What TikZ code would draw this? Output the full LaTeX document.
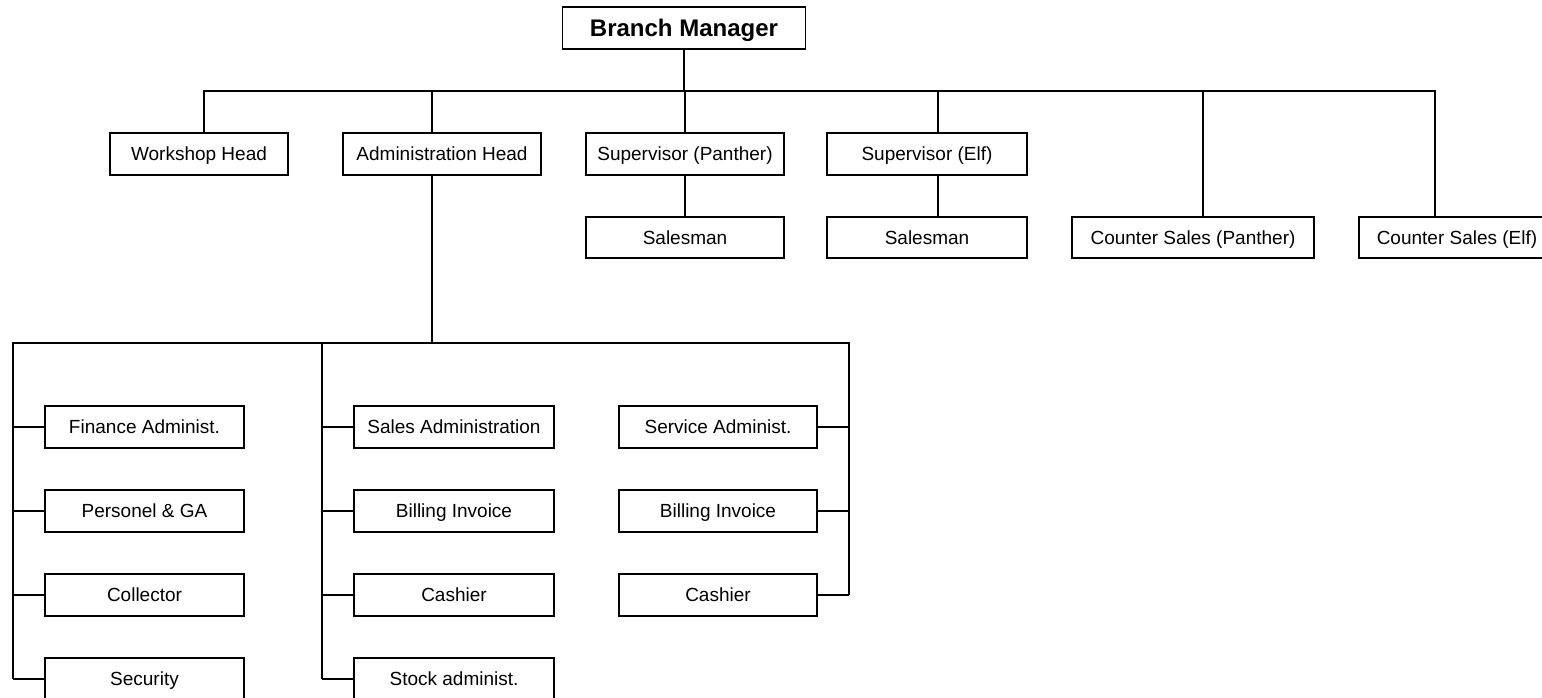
\documentclass[tikz,border=0pt]{standalone}
\usepackage{fontspec}
\setmainfont{Liberation Sans}
\begin{document}
\begin{tikzpicture}[x=1pt,y=-1pt,
  unit/.style={draw, line width=1.4pt, inner sep=0pt, align=center,
    minimum height=42pt, text height=13.6pt, text depth=0pt,
    font=\fontsize{19}{22}\selectfont},
  boss/.style={unit, text height=17.2pt, font=\fontsize{24}{28}\selectfont\bfseries},
  link/.style={line width=1.3pt}]
\useasboundingbox (0,0) rectangle (1542,698);
\fill[white] (0,0) rectangle (1542,698);

% top levels
\node[boss, minimum width=243pt] (bm) at (684,28) {Branch Manager};
\node[unit, minimum width=178pt] (wh) at (199,154) {Workshop Head};
\node[unit, minimum width=198pt] (ah) at (442,154) {Administration Head};
\node[unit, minimum width=198pt] (sp) at (685,154) {Supervisor (Panther)};
\node[unit, minimum width=200pt] (se) at (927,154) {Supervisor (Elf)};
\node[unit, minimum width=198pt, minimum height=41pt] (s1) at (685,237.5) {Salesman};
\node[unit, minimum width=200pt, minimum height=41pt] (s2) at (927,237.5) {Salesman};
\node[unit, minimum width=242pt, minimum height=41pt] (cp) at (1193,237.5) {Counter Sales (Panther)};
\node[unit, minimum width=196pt, minimum height=41pt] (ce) at (1457,237.5) {Counter Sales (Elf)};

% administration: left column
\node[unit, minimum width=199pt] (fa) at (144.5,427) {Finance Administ.};
\node[unit, minimum width=199pt] (pg) at (144.5,511) {Personel \& GA};
\node[unit, minimum width=199pt] (co) at (144.5,595) {Collector};
\node[unit, minimum width=199pt] (sc) at (144.5,679) {Security};
% administration: middle column
\node[unit, minimum width=200pt] (sa) at (454,427) {Sales Administration};
\node[unit, minimum width=200pt] (bi1) at (454,511) {Billing Invoice};
\node[unit, minimum width=200pt] (ca1) at (454,595) {Cashier};
\node[unit, minimum width=200pt] (st) at (454,679) {Stock administ.};
% administration: right column
\node[unit, minimum width=198pt] (sv) at (718,427) {Service Administ.};
\node[unit, minimum width=198pt] (bi2) at (718,511) {Billing Invoice};
\node[unit, minimum width=198pt] (ca2) at (718,595) {Cashier};

% bus points
\coordinate (tl) at (204,91);
\coordinate (tr) at (1435,91);
\coordinate (adx) at (432,91);
\coordinate (sex) at (938,91);
\coordinate (cpx) at (1203,91);
\coordinate (bl) at (13,343);
\coordinate (bm2) at (322,343);
\coordinate (br) at (849,343);

% branch manager to heads
\draw[link] (bm.south) -- (bm.south |- tl);
\draw[link] (tl |- wh.north) -- (tl) -- (tr) -- (tr |- ce.north);
\draw[link] (adx) -- (adx |- ah.north);
\draw[link] (sp.north) -- (sp.north |- tl);
\draw[link] (sex) -- (sex |- se.north);
\draw[link] (cpx) -- (cpx |- cp.north);

% supervisors to salesmen
\draw[link] (sp.south) -- (s1.north);
\draw[link] (se.south -| sex) -- (s2.north -| sex);

% administration head to its staff
\draw[link] (ah.south -| adx) -- (adx |- bl);
\draw[link] (bl |- sc.west) -- (bl) -- (br) -- (br |- ca2.east);
\draw[link] (bm2) -- (bm2 |- st.west);

\foreach \n in {fa,pg,co,sc} \draw[link] (\n.west) -- (\n.west -| bl);
\foreach \n in {sa,bi1,ca1,st} \draw[link] (\n.west) -- (\n.west -| bm2);
\foreach \n in {sv,bi2,ca2} \draw[link] (\n.east) -- (\n.east -| br);
\end{tikzpicture}
\end{document}
